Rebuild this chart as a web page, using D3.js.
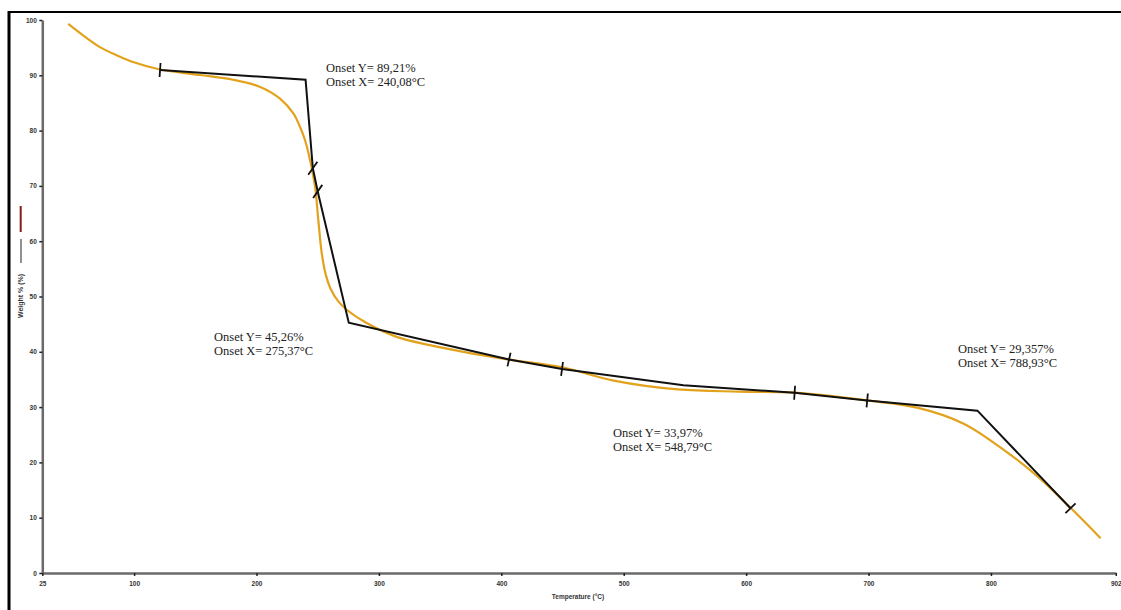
<!DOCTYPE html>
<html>
<head>
<meta charset="utf-8">
<script src="https://cdn.jsdelivr.net/npm/d3@7"></script>
<style>
  html, body { margin: 0; padding: 0; background: #fff; }
  svg { display: block; }
</style>
</head>
<body>
<svg id="chart" width="1121" height="610"></svg>
<script>
// Thermogravimetric curve: temperature (°C) vs remaining weight (%)
const temperature = [46.2, 59.1, 72.1, 86.0, 99.1, 121.2, 153.9, 180.8, 203, 219.2, 230.1, 235.5, 239.6, 243.7,
  247.8, 250.5, 253.2, 256.5, 260.5, 266.5, 273.7, 290, 314.5, 341.7, 369, 406.3, 449.6, 491.8, 544.3,
  594, 639.6, 698.9, 739.7, 777.7, 812.7, 839, 865, 889.6];
const weight = [99.3, 97.1, 95.1, 93.6, 92.4, 91.05, 90.05, 89.2, 87.9, 85.8, 83.1, 80.7, 78.3, 74.7,
  69.9, 63.8, 58.0, 54.0, 51.4, 49.2, 47.6, 45.2, 42.7, 41.2, 40.0, 38.6, 37.2, 34.8, 33.2,
  32.8, 32.6, 31.2, 29.9, 27.0, 21.9, 17.3, 11.8, 6.3];

// Onset analysis: tangent start, intersection (onset) and tangent end per step
const onsetX = [240.08, 275.37, 548.79, 788.93];
const onsetY = [89.21, 45.26, 33.97, 29.357];
const tangentStartT = [121.2, 250.0, 449.6, 698.9];
const tangentStartW = [90.95, 69.0, 36.9, 31.2];
const tangentEndT = [246.0, 406.3, 639.6, 865.0];
const tangentEndW = [73.2, 38.6, 32.6, 11.7];
const onsetLabelY = ["Onset Y= 89,21%", "Onset Y= 45,26%", "Onset Y= 33,97%", "Onset Y= 29,357%"];
const onsetLabelX = ["Onset X= 240,08°C", "Onset X= 275,37°C", "Onset X= 548,79°C", "Onset X= 788,93°C"];

// Axis ticks
const xTicks = [25, 100, 200, 300, 400, 500, 600, 700, 800, 902];
const yTicks = [0, 10, 20, 30, 40, 50, 60, 70, 80, 90, 100];

const svg = d3.select("#chart");
const x = d3.scaleLinear().domain([25, 902]).range([42.3, 1115.8]);
const y = d3.scaleLinear().domain([0, 100]).range([573, 20]);

// page frame
svg.append("line").attr("x1", 9).attr("x2", 9).attr("y1", 11).attr("y2", 610)
  .attr("stroke", "#000").attr("stroke-width", 3);
svg.append("line").attr("x1", 8).attr("x2", 1121).attr("y1", 12).attr("y2", 12)
  .attr("stroke", "#000").attr("stroke-width", 2);

// axes
const axisFont = "Liberation Sans, Arial, sans-serif";
const gy = svg.append("g").attr("transform", `translate(${x(25)},0)`)
  .call(d3.axisLeft(y).tickValues(yTicks).tickSize(3).tickSizeOuter(0).tickPadding(2.5).tickFormat(d3.format("d")));
const gx = svg.append("g").attr("transform", `translate(0,${y(0)})`)
  .call(d3.axisBottom(x).tickValues(xTicks).tickSize(3).tickSizeOuter(0).tickPadding(5).tickFormat(d3.format("d")));
[gx, gy].forEach(g => {
  g.select(".domain").attr("stroke", "#6a6a6a").attr("stroke-width", 2.5);
  g.selectAll(".tick line").attr("stroke", "#222").attr("stroke-width", 1.5);
  g.selectAll(".tick text").attr("fill", "#333").attr("font-family", axisFont)
    .attr("font-size", 6.5).attr("font-weight", "bold");
});

svg.append("text").attr("x", 578).attr("y", 599).attr("text-anchor", "middle")
  .attr("font-family", axisFont).attr("font-size", 6.5).attr("font-weight", "bold").attr("fill", "#333")
  .text("Temperature (°C)");

// y-axis title with series keys
svg.append("line").attr("x1", 20.7).attr("x2", 20.7).attr("y1", 206).attr("y2", 232)
  .attr("stroke", "#8b1a1a").attr("stroke-width", 2);
svg.append("line").attr("x1", 21).attr("x2", 21).attr("y1", 239).attr("y2", 263)
  .attr("stroke", "#222").attr("stroke-width", 1);
svg.append("text").attr("transform", "translate(23,296) rotate(-90)").attr("text-anchor", "middle")
  .attr("font-family", axisFont).attr("font-size", 7).attr("font-weight", "bold").attr("fill", "#333")
  .text("Weight % (%)");

// weight curve
const curveData = temperature.map((t, i) => [t, weight[i]]);
svg.append("path").datum(curveData)
  .attr("d", d3.line().x(d => x(d[0])).y(d => y(d[1])).curve(d3.curveCatmullRom.alpha(0.5)))
  .attr("fill", "none").attr("stroke", "#e3a21c").attr("stroke-width", 2.2);

// tangent construction lines through each onset
const tangentPts = [];
onsetX.forEach((ox, i) => {
  tangentPts.push([tangentStartT[i], tangentStartW[i]]);
  tangentPts.push([ox, onsetY[i]]);
  tangentPts.push([tangentEndT[i], tangentEndW[i]]);
});
svg.append("path").datum(tangentPts)
  .attr("d", d3.line().x(d => x(d[0])).y(d => y(d[1])))
  .attr("fill", "none").attr("stroke", "#111").attr("stroke-width", 2).attr("stroke-linejoin", "miter");

// limit marks on the tangent lines
const marks = [];
onsetX.forEach((ox, i) => {
  marks.push({ p: [tangentStartT[i], tangentStartW[i]], q: [ox, onsetY[i]] });
  marks.push({ p: [tangentEndT[i], tangentEndW[i]], q: [ox, onsetY[i]] });
});
marks.forEach(m => {
  const px = x(m.p[0]), py = y(m.p[1]);
  const dx = x(m.q[0]) - px, dy = y(m.q[1]) - py;
  const ang = Math.atan2(Math.abs(dy), Math.abs(dx));
  let ux, uy, half;
  if (ang > Math.PI / 3) {          // steep segment: slanted mark
    ux = Math.cos(Math.PI * 55 / 180); uy = -Math.sin(Math.PI * 55 / 180); half = 8;
  } else {
    const len = Math.hypot(dx, dy);
    ux = -dy / len; uy = dx / len;  // perpendicular
    if (uy > 0) { ux = -ux; uy = -uy; }
    half = 7;
  }
  svg.append("line")
    .attr("x1", px - ux * half).attr("y1", py - uy * half)
    .attr("x2", px + ux * half).attr("y2", py + uy * half)
    .attr("stroke", "#111").attr("stroke-width", 1.8);
});

// onset annotations
const labelAnchors = [[326, 72], [214, 341], [613, 437], [958, 353]];
const serif = "Liberation Serif, Times New Roman, serif";
onsetX.forEach((ox, i) => {
  const t = svg.append("text").attr("font-family", serif).attr("font-size", 12.5).attr("fill", "#222");
  t.append("tspan").attr("x", labelAnchors[i][0]).attr("y", labelAnchors[i][1]).text(onsetLabelY[i]);
  t.append("tspan").attr("x", labelAnchors[i][0]).attr("y", labelAnchors[i][1] + 14).text(onsetLabelX[i]);
});
</script>
</body>
</html>
